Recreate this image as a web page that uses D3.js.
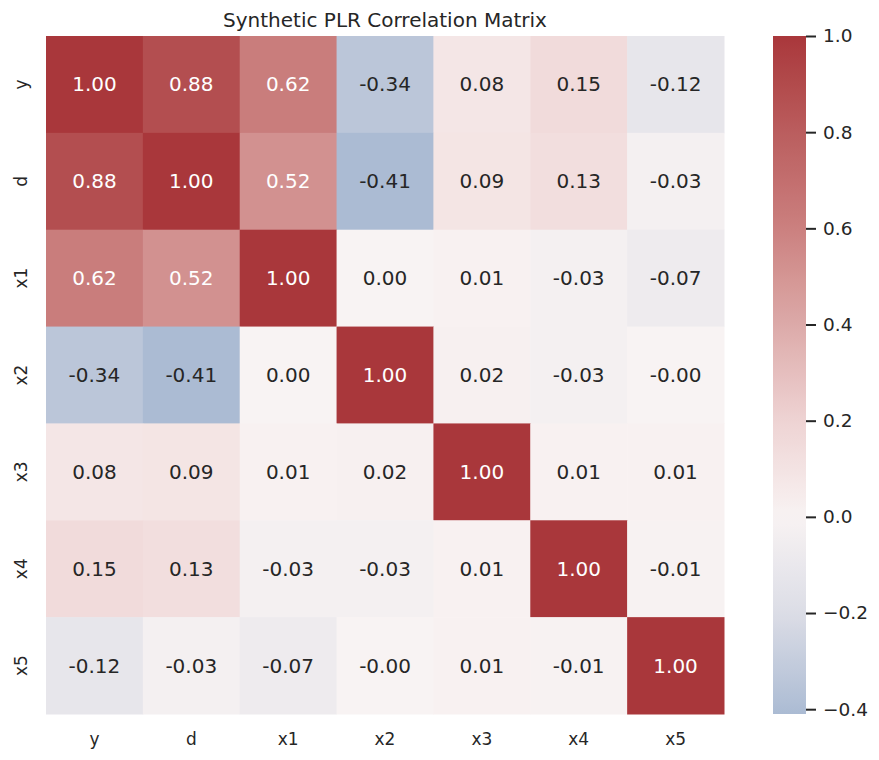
<!DOCTYPE html>
<html>
<head>
<meta charset="utf-8">
<script src="https://cdn.jsdelivr.net/npm/d3@7"></script>
<style>
  body { margin: 0; background: #fff; }
  text { font-family: "DejaVu Sans", sans-serif; fill: #262626; }
</style>
</head>
<body>
<script>
// variable names, same order on both axes
var vars = ['y', 'd', 'x1', 'x2', 'x3', 'x4', 'x5'];

// correlation rows
var rowY  = [1.00, 0.88, 0.62, -0.34, 0.08, 0.15, -0.12];
var rowD  = [0.88, 1.00, 0.52, -0.41, 0.09, 0.13, -0.03];
var rowX1 = [0.62, 0.52, 1.00, 0.00, 0.01, -0.03, -0.07];
var rowX2 = [-0.34, -0.41, 0.00, 1.00, 0.02, -0.03, -0.002];
var rowX3 = [0.08, 0.09, 0.01, 0.02, 1.00, 0.01, 0.01];
var rowX4 = [0.15, 0.13, -0.03, -0.03, 0.01, 1.00, -0.01];
var rowX5 = [-0.12, -0.03, -0.07, -0.002, 0.01, -0.01, 1.00];
var corr = [rowY, rowD, rowX1, rowX2, rowX3, rowX4, rowX5];

var cbTicks = [-0.4, -0.2, 0.0, 0.2, 0.4, 0.6, 0.8, 1.0];

var vmin = -0.41, vmax = 1.0;

var cells = [];
corr.forEach(function(row, i) {
  row.forEach(function(v, j) {
    cells.push({ row: vars[i], col: vars[j], value: v });
  });
});

var svg = d3.select('body').append('svg')
  .attr('width', 879)
  .attr('height', 760);

var mLeft = 46, mTop = 36, mRight = 724, mBottom = 714;

var x = d3.scaleBand().domain(vars).range([mLeft, mRight]);
var y = d3.scaleBand().domain(vars).range([mTop, mBottom]);

// vlag-like diverging colours
var color = d3.scaleLinear()
  .domain([-0.41, -0.2, 0, 0.2, 0.4, 0.6, 0.8, 1.0])
  .range(['#abbbd3', '#dcdde6', '#f8f3f3', '#eed3d3', '#dcaaa9', '#cb807f', '#ba5d5e', '#a9373b'])
  .interpolate(d3.interpolateLab)
  .clamp(true);

function textColor(c) {
  var rgb = d3.rgb(c);
  function lin(u) { u = u / 255; return u <= 0.03928 ? u / 12.92 : Math.pow((u + 0.055) / 1.055, 2.4); }
  var lum = 0.2126 * lin(rgb.r) + 0.7152 * lin(rgb.g) + 0.0722 * lin(rgb.b);
  return lum > 0.408 ? '#262626' : '#ffffff';
}

function fmt(v) {
  return (v < 0 ? '-' : '') + Math.abs(v).toFixed(2);
}

svg.selectAll('rect.cell')
  .data(cells)
  .enter().append('rect')
  .attr('class', 'cell')
  .attr('x', function(d) { return x(d.col); })
  .attr('y', function(d) { return y(d.row); })
  .attr('width', x.bandwidth() + 0.5)
  .attr('height', y.bandwidth() + 0.5)
  .attr('fill', function(d) { return color(d.value); });

svg.selectAll('text.annot')
  .data(cells)
  .enter().append('text')
  .attr('class', 'annot')
  .attr('x', function(d) { return x(d.col) + x.bandwidth() / 2; })
  .attr('y', function(d) { return y(d.row) + y.bandwidth() / 2; })
  .attr('dy', '0.35em')
  .attr('text-anchor', 'middle')
  .style('font-size', '20px')
  .style('fill', function(d) { return textColor(color(d.value)); })
  .text(function(d) { return fmt(d.value); });

// x tick labels
var xAxis = svg.append('g')
  .attr('transform', 'translate(0,' + mBottom + ')')
  .call(d3.axisBottom(x).tickSize(0).tickPadding(0));
xAxis.select('.domain').remove();
xAxis.selectAll('text')
  .attr('y', 31)
  .attr('dy', 0)
  .style('font-size', '17px')
  .style('fill', '#262626');

// y tick labels, turned upright
var yAxis = svg.append('g')
  .attr('transform', 'translate(' + mLeft + ',0)')
  .call(d3.axisLeft(y).tickSize(0));
yAxis.select('.domain').remove();
yAxis.selectAll('text')
  .attr('x', 0)
  .attr('dy', 0)
  .attr('text-anchor', 'middle')
  .attr('transform', 'translate(-19,0) rotate(-90)')
  .style('font-size', '17px')
  .style('fill', '#262626');

svg.append('text')
  .attr('x', (mLeft + mRight) / 2)
  .attr('y', 27)
  .attr('text-anchor', 'middle')
  .style('font-size', '20px')
  .text('Synthetic PLR Correlation Matrix');

// colour bar
var cbX = 773, cbW = 33;
var cbScale = d3.scaleLinear().domain([vmin, vmax]).range([mBottom, mTop]);

var grad = svg.append('defs').append('linearGradient')
  .attr('id', 'cbgrad')
  .attr('x1', 0).attr('y1', 1).attr('x2', 0).attr('y2', 0);
d3.range(0, 1.0001, 0.02).forEach(function(t) {
  grad.append('stop')
    .attr('offset', t)
    .attr('stop-color', color(vmin + t * (vmax - vmin)));
});

svg.append('rect')
  .attr('x', cbX)
  .attr('y', mTop)
  .attr('width', cbW)
  .attr('height', mBottom - mTop)
  .attr('fill', 'url(#cbgrad)');

var cbAxis = svg.append('g')
  .attr('transform', 'translate(' + (cbX + cbW) + ',0)')
  .call(d3.axisRight(cbScale).tickValues(cbTicks).tickFormat(d3.format('.1f')).tickSize(10).tickPadding(7));
cbAxis.select('.domain').remove();
cbAxis.selectAll('line').attr('stroke', '#262626').attr('stroke-width', 2);
cbAxis.selectAll('text')
  .style('font-size', '18.5px')
  .style('fill', '#262626');
</script>
</body>
</html>
